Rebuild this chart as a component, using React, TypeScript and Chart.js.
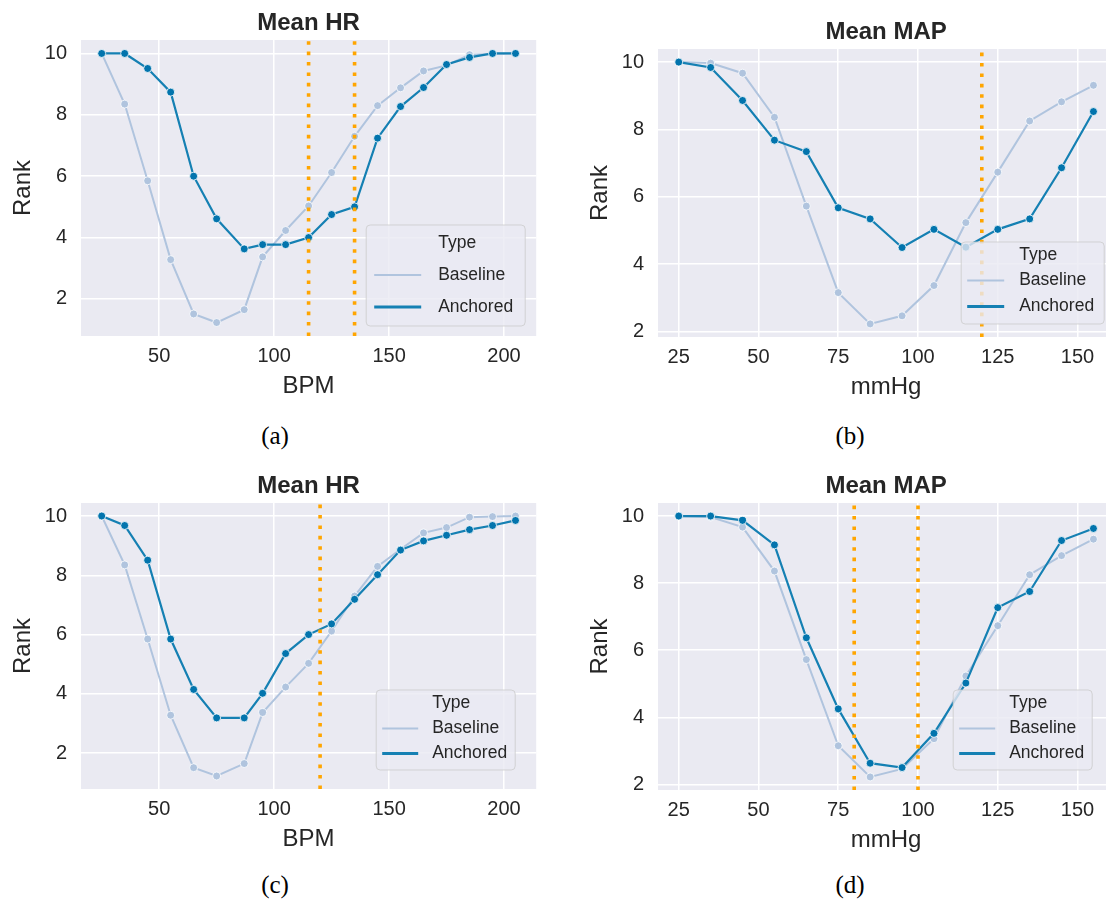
import React, { useEffect, useRef } from 'react';
import { Chart, registerables } from 'chart.js';
Chart.register(...registerables);

// ---------- data ----------
const hrX = [25, 35, 45, 55, 65, 75, 87, 95, 105, 115, 125, 135, 145, 155, 165, 175, 185, 195, 205];
const hrBaseline = [10, 8.35, 5.85, 3.28, 1.51, 1.23, 1.65, 3.37, 4.23, 5.03, 6.12, 7.3, 8.3, 8.88, 9.43, 9.61, 9.96, 9.98, 10];
const hrAnchoredA = [10, 10, 9.51, 8.74, 6.0, 4.61, 3.63, 3.77, 3.77, 4.0, 4.75, 5.0, 7.24, 8.27, 8.89, 9.64, 9.87, 10, 10];
const hrAnchoredC = [10, 9.68, 8.51, 5.85, 4.15, 3.19, 3.19, 4.02, 5.36, 6.0, 6.36, 7.19, 8.02, 8.85, 9.16, 9.35, 9.54, 9.68, 9.85];
const mapX = [25, 35, 45, 55, 65, 75, 85, 95, 105, 115, 125, 135, 145, 155];
const mapBaseline = [10, 9.97, 9.67, 8.36, 5.72, 3.15, 2.22, 2.46, 3.36, 5.23, 6.73, 8.25, 8.82, 9.31];
const mapAnchoredB = [10, 9.84, 8.86, 7.68, 7.34, 5.67, 5.34, 4.49, 5.03, 4.5, 5.03, 5.34, 6.86, 8.53];
const mapAnchoredD = [10, 10, 9.87, 9.14, 6.37, 4.25, 2.63, 2.5, 3.52, 5.02, 7.27, 7.75, 9.27, 9.63];
const hrTicks = [50, 100, 150, 200];
const mapTicks = [25, 50, 75, 100, 125, 150];
const rankTicks = [2, 4, 6, 8, 10];
const refA = [115, 135];
const refB = [120];
const refC = [120];
const refD = [80, 100];
const seriesNames = ['Baseline', 'Anchored'];
const legendTitle = 'Type';

// ---------- style ----------
const FONT = '"Liberation Sans", Arial, sans-serif';
const TEXT = '#262626';
const BG = '#eaeaf2';
const BASE_COLOR = '#b0c4de';
const ANCH_LINE = '#1580b3';
const ANCH_PT = '#0274ad';
const ORANGE = '#ffa500';

type Legend = { right: number; bottom: number; w: number; h: number; rows: number[]; sx0: number; sx1: number; tx: number };
type Panel = {
  title: string; xTitle: string; xs: number[]; baseline: number[]; anchored: number[]; xTicks: number[]; refs: number[];
  L: number; T: number; R: number; B: number; legend: Legend; caption: string; capX: number; capY: number; clip: number;
};

const panels: Panel[] = [
  { title: 'Mean HR', xTitle: 'BPM', xs: hrX, baseline: hrBaseline, anchored: hrAnchoredA, xTicks: hrTicks, refs: refA,
    L: 81, T: 40, R: 539, B: 336, caption: '(a)', capX: 275, capY: 436, clip: 1108,
    legend: { right: 11, bottom: 10, w: 159, h: 101, rows: [18, 50, 82], sx0: 8, sx1: 55, tx: 72 } },
  { title: 'Mean MAP', xTitle: 'mmHg', xs: mapX, baseline: mapBaseline, anchored: mapAnchoredB, xTicks: mapTicks, refs: refB,
    L: 658, T: 49, R: 1117, B: 337, caption: '(b)', capX: 850, capY: 436, clip: 1106,
    legend: { right: 10, bottom: 13, w: 143, h: 82, rows: [13, 38.5, 64.5], sx0: 6, sx1: 43, tx: 58 } },
  { title: 'Mean HR', xTitle: 'BPM', xs: hrX, baseline: hrBaseline, anchored: hrAnchoredC, xTicks: hrTicks, refs: refC,
    L: 81, T: 503, R: 539, B: 789, caption: '(c)', capX: 275, capY: 885, clip: 1108,
    legend: { right: 21, bottom: 19, w: 139, h: 80, rows: [13, 38.5, 63.5], sx0: 6, sx1: 42, tx: 56 } },
  { title: 'Mean MAP', xTitle: 'mmHg', xs: mapX, baseline: mapBaseline, anchored: mapAnchoredD, xTicks: mapTicks, refs: refD,
    L: 658, T: 503, R: 1117, B: 790, caption: '(d)', capX: 850, capY: 885, clip: 1106,
    legend: { right: 22, bottom: 20, w: 139, h: 80, rows: [13, 38.5, 63.5], sx0: 6, sx1: 42, tx: 56 } },
];

const Y_AXIS_W = 80;
const TOP_H = 44;

function paddedRange(vals: number[]): [number, number] {
  const mn = Math.min(...vals);
  const mx = Math.max(...vals);
  const p = (mx - mn) * 0.05;
  return [mn - p, mx + p];
}

function geometry(p: Panel) {
  const cx = p.L - Y_AXIS_W;
  const cy = p.T - TOP_H;
  const cw = p.R + 2 - cx;
  const ch = p.B + 66 - cy;
  return { cx, cy, cw, ch, xAxisH: cy + ch - p.B };
}

function PanelChart({ p }: { p: Panel }) {
  const ref = useRef<HTMLCanvasElement | null>(null);
  const g = geometry(p);
  useEffect(() => {
    if (!ref.current) return;
    const [xMin, xMax] = paddedRange(p.xs);
    const [yMin, yMax] = paddedRange([...p.baseline, ...p.anchored]);

    const bgPlugin = {
      id: 'bg',
      beforeDraw(chart: any) {
        const { ctx, chartArea: a } = chart;
        ctx.save();
        ctx.fillStyle = BG;
        ctx.fillRect(a.left, a.top, a.right - a.left, a.bottom - a.top);
        ctx.restore();
      },
    };
    const refPlugin = {
      id: 'refs',
      afterDatasetsDraw(chart: any) {
        const { ctx, chartArea: a, scales } = chart;
        ctx.save();
        ctx.strokeStyle = ORANGE;
        ctx.lineWidth = 3.6;
        ctx.setLineDash([3.6, 6.8]);
        for (const v of p.refs) {
          const x = scales.x.getPixelForValue(v);
          ctx.beginPath();
          ctx.moveTo(x, a.bottom);
          ctx.lineTo(x, a.top);
          ctx.stroke();
        }
        ctx.restore();
      },
    };
    const legendPlugin = {
      id: 'lg',
      afterDraw(chart: any) {
        const { ctx, chartArea: a } = chart;
        const lg = p.legend;
        const x0 = a.right - lg.right - lg.w;
        const y0 = a.bottom - lg.bottom - lg.h;
        ctx.save();
        const r = 4;
        ctx.beginPath();
        ctx.moveTo(x0 + r, y0);
        ctx.arcTo(x0 + lg.w, y0, x0 + lg.w, y0 + lg.h, r);
        ctx.arcTo(x0 + lg.w, y0 + lg.h, x0, y0 + lg.h, r);
        ctx.arcTo(x0, y0 + lg.h, x0, y0, r);
        ctx.arcTo(x0, y0, x0 + lg.w, y0, r);
        ctx.closePath();
        ctx.fillStyle = 'rgba(234,234,242,0.8)';
        ctx.fill();
        ctx.strokeStyle = 'rgba(204,204,204,0.8)';
        ctx.lineWidth = 1;
        ctx.stroke();
        ctx.font = `17.5px ${FONT}`;
        ctx.fillStyle = TEXT;
        ctx.textAlign = 'left';
        ctx.textBaseline = 'middle';
        ctx.fillText(legendTitle, x0 + lg.tx, y0 + lg.rows[0]);
        const cols = [BASE_COLOR, ANCH_LINE];
        const widths = [2, 3];
        for (let i = 0; i < 2; i++) {
          const y = y0 + lg.rows[i + 1];
          ctx.strokeStyle = cols[i];
          ctx.lineWidth = widths[i];
          ctx.beginPath();
          ctx.moveTo(x0 + lg.sx0, y);
          ctx.lineTo(x0 + lg.sx1, y);
          ctx.stroke();
          ctx.fillText(seriesNames[i], x0 + lg.tx, y);
        }
        ctx.restore();
      },
    };

    const chart = new Chart(ref.current, {
      type: 'line',
      data: {
        datasets: [
          {
            label: seriesNames[1],
            data: p.xs.map((x, i) => ({ x, y: p.anchored[i] })),
            borderColor: ANCH_LINE,
            borderWidth: 2.2,
            pointBackgroundColor: ANCH_PT,
            pointBorderColor: '#ffffff',
            pointBorderWidth: 0.8,
            pointRadius: 4,
            order: 0,
          },
          {
            label: seriesNames[0],
            data: p.xs.map((x, i) => ({ x, y: p.baseline[i] })),
            borderColor: BASE_COLOR,
            borderWidth: 2,
            pointBackgroundColor: BASE_COLOR,
            pointBorderColor: '#ffffff',
            pointBorderWidth: 0.8,
            pointRadius: 4,
            order: 1,
          },
        ],
      },
      options: {
        animation: false,
        responsive: false,
        events: [],
        layout: { padding: { left: 0, top: 0, right: 2, bottom: 0 } },
        plugins: {
          legend: { display: false },
          tooltip: { enabled: false },
          title: {
            display: true,
            text: p.title,
            fullSize: false,
            color: TEXT,
            font: { family: FONT, size: 24, weight: 'bold', lineHeight: 1.2 },
            padding: { top: 12.6, bottom: 2.6 },
          },
        },
        scales: {
          x: {
            type: 'linear',
            min: xMin,
            max: xMax,
            afterBuildTicks: (s: any) => { s.ticks = p.xTicks.map((v) => ({ value: v })); },
            afterFit: (s: any) => { s.height = g.xAxisH; },
            ticks: { color: TEXT, font: { family: FONT, size: 20 }, padding: 8, autoSkip: false, maxRotation: 0, callback: (v: any) => String(v) },
            grid: { color: '#ffffff', lineWidth: 1.5, drawTicks: false },
            border: { display: false },
            title: {
              display: true, text: p.xTitle, color: TEXT,
              font: { family: FONT, size: 24, lineHeight: 1.2 },
              padding: { top: 0, bottom: g.xAxisH - 64.4 },
            },
          },
          y: {
            type: 'linear',
            min: yMin,
            max: yMax,
            afterBuildTicks: (s: any) => { s.ticks = rankTicks.map((v) => ({ value: v })); },
            afterFit: (s: any) => { s.width = Y_AXIS_W; },
            ticks: { color: TEXT, font: { family: FONT, size: 20 }, padding: 14, callback: (v: any) => String(v) },
            grid: { color: '#ffffff', lineWidth: 1.5, drawTicks: false },
            border: { display: false },
            title: {
              display: true, text: 'Rank', color: TEXT,
              font: { family: FONT, size: 24, lineHeight: 1.2 },
              padding: { top: 8, bottom: 0 },
            },
          },
        },
      },
      plugins: [bgPlugin, refPlugin, legendPlugin],
    } as any);
    return () => chart.destroy();
  }, []);

  const visibleW = Math.min(g.cw, p.clip - g.cx);
  return (
    <>
      <div style={{ position: 'absolute', left: g.cx, top: g.cy, width: visibleW, height: g.ch, overflow: 'hidden' }}>
        <canvas ref={ref} width={g.cw} height={g.ch} style={{ width: g.cw, height: g.ch, display: 'block' }} />
      </div>
      <div
        style={{
          position: 'absolute', left: p.capX - 60, width: 120, top: p.capY - 15, height: 30, lineHeight: '30px',
          textAlign: 'center', fontFamily: '"Liberation Serif", serif', fontSize: 25, color: '#000',
        }}
      >
        {p.caption}
      </div>
    </>
  );
}

export default function App() {
  return (
    <div style={{ position: 'absolute', left: 0, top: 0, width: 1108, height: 903, overflow: 'hidden', background: '#ffffff' }}>
      {panels.map((p, i) => (
        <PanelChart key={i} p={p} />
      ))}
    </div>
  );
}
